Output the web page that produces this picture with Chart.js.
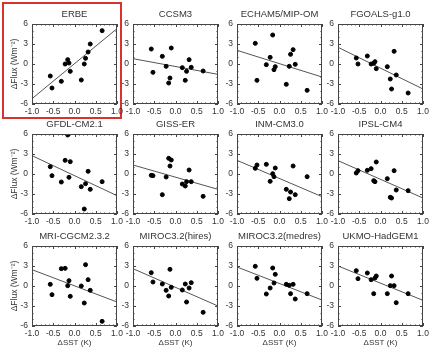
<!DOCTYPE html>
<html>
<head>
<meta charset="utf-8">
<script src="https://cdn.jsdelivr.net/npm/chart.js@4"></script>
<style>
  html, body { margin: 0; padding: 0; background: #fff; }
  #wrap { position: relative; width: 432px; height: 352px; overflow: hidden; }
  #wrap canvas { position: absolute; }
  .erbe-box { position: absolute; left: 2px; top: 2px; width: 116px; height: 113px; border: 2px solid #d9322e; }
</style>
</head>
<body>
<div id="wrap"><div class="erbe-box"></div></div>
<script>
// ΔSST anomalies (same years in every panel)
const sstAnom = [-0.57, -0.53, -0.31, -0.22, -0.16, -0.13, -0.10, 0.16, 0.23, 0.26, 0.32, 0.37, 0.65];

const panelNames = ['ERBE', 'CCSM3', 'ECHAM5/MIP-OM', 'FGOALS-g1.0',
  'GFDL-CM2.1', 'GISS-ER', 'INM-CM3.0', 'IPSL-CM4',
  'MRI-CGCM2.3.2', 'MIROC3.2(hires)', 'MIROC3.2(medres)', 'UKMO-HadGEM1'];

const fluxERBE     = [-1.8, -3.6, -2.6, 0.0, 0.65, 0.15, -1.1, -2.4, 0.0, 0.85, 1.8, 3.0, 5.0];
const fluxCCSM3    = [2.25, -1.25, 1.15, -0.35, -2.85, -2.1, 2.4, -0.55, -2.45, -1.1, 0.65, -0.5, -1.05];
const fluxECHAM5   = [3.1, -2.45, -0.1, 1.0, 4.35, -0.85, -0.4, -3.05, -0.35, 1.45, 2.15, -0.05, -3.95];
const fluxFGOALS   = [0.9, 0.0, 1.2, 0.0, 0.1, 0.35, -0.7, -0.4, -2.25, -3.75, 1.9, -1.65, -4.35];
const fluxGFDL     = [1.1, -0.25, -1.2, 2.05, 5.85, -0.5, 1.85, -1.9, -5.25, -1.45, 0.4, -2.3, -1.15];
const fluxGISS     = [-0.2, -0.25, -3.1, -0.45, 2.35, 1.2, 2.1, -1.5, -1.8, -1.15, 0.6, -1.15, -3.35];
const fluxINM      = [0.85, 1.35, 1.45, -1.1, 0.05, -0.4, 0.9, -2.3, -3.7, -2.7, 1.2, -3.1, -0.4];
const fluxIPSL     = [0.15, 0.5, 0.55, 0.8, -1.0, -1.15, 1.8, -0.7, -3.5, -3.6, 0.5, -2.4, -2.5];
const fluxMRI      = [0.25, -1.3, 2.6, 2.65, 0.05, 0.8, -1.55, 0.0, -2.55, 3.2, 0.95, -0.65, -5.3];
const fluxMIROChi  = [2.0, 0.6, 0.3, -0.65, -1.5, 2.5, -0.2, -0.6, 0.3, -2.4, -0.3, 0.5, -3.95];
const fluxMIROCmed = [2.95, 1.15, -1.2, -0.3, 2.7, 0.45, 1.75, 0.25, 0.1, -1.15, 0.25, -1.95, -1.15];
const fluxUKMO     = [2.3, 1.1, 1.95, 0.95, -1.15, 1.2, 1.5, -1.15, 0.05, 1.5, 0.05, -2.5, -1.15];

// regression line read at ΔSST = -1 and ΔSST = +1
const fitAtMinus1 = [-5.2, 0.8, 2.05, 2.5, 2.75, 1.35, 2.05, 2.0, 2.45, 2.6, 2.85, 3.0];
const fitAtPlus1  = [5.3, -1.55, -1.95, -3.75, -3.25, -2.3, -3.4, -3.6, -2.4, -3.0, -2.1, -2.15];

const xTicks = [-1, -0.5, 0, 0.5, 1];
const yTicks = [-6, -3, 0, 3, 6];
const xMinorTicks = [-1, -0.9, -0.8, -0.7, -0.6, -0.5, -0.4, -0.3, -0.2, -0.1, 0, 0.1, 0.2, 0.3, 0.4, 0.5, 0.6, 0.7, 0.8, 0.9, 1];
const yMinorTicks = [-6, -5, -4, -3, -2, -1, 0, 1, 2, 3, 4, 5, 6];

const allFlux = [fluxERBE, fluxCCSM3, fluxECHAM5, fluxFGOALS, fluxGFDL, fluxGISS,
  fluxINM, fluxIPSL, fluxMRI, fluxMIROChi, fluxMIROCmed, fluxUKMO];

// panel geometry
const colLeft = [32, 133, 237, 338];
const rowTop = [24, 134, 246];
const plotW = 85, plotH = 80;
const axisW = 32, titleH = 24, padR = 14;

const tickFont = { family: '"Liberation Sans Narrow", "Liberation Sans", Arial, sans-serif', size: 8.5 };
const textColor = '#333';

// box round the plot area with inward ticks on all four sides
const boxTicks = {
  id: 'boxTicks',
  afterDatasetsDraw(chart) {
    const { ctx, chartArea: a, scales: { x, y } } = chart;
    ctx.save();
    ctx.strokeStyle = '#444';
    ctx.lineWidth = 1;
    ctx.strokeRect(Math.round(a.left) + 0.5, Math.round(a.top) + 0.5,
      Math.round(a.width) - 1, Math.round(a.height) - 1);
    ctx.beginPath();
    xMinorTicks.forEach(v => {
      const px = Math.round(x.getPixelForValue(v)) + 0.5;
      const len = xTicks.includes(v) ? 3 : 1.5;
      ctx.moveTo(px, a.bottom); ctx.lineTo(px, a.bottom - len);
      ctx.moveTo(px, a.top); ctx.lineTo(px, a.top + len);
    });
    yMinorTicks.forEach(v => {
      const py = Math.round(y.getPixelForValue(v)) + 0.5;
      const len = yTicks.includes(v) ? 3 : 1.5;
      ctx.moveTo(a.left, py); ctx.lineTo(a.left + len, py);
      ctx.moveTo(a.right, py); ctx.lineTo(a.right - len, py);
    });
    ctx.stroke();
    ctx.restore();
  }
};

const wrap = document.getElementById('wrap');

panelNames.forEach((name, i) => {
  const r = Math.floor(i / 4), c = i % 4;
  const xAxisH = r === 2 ? 22 : 14;
  const cv = document.createElement('canvas');
  const w = axisW + plotW + padR, h = titleH + plotH + xAxisH;
  cv.width = w; cv.height = h;
  cv.style.left = (colLeft[c] - axisW) + 'px';
  cv.style.top = (rowTop[r] - titleH) + 'px';
  cv.style.width = w + 'px'; cv.style.height = h + 'px';
  wrap.appendChild(cv);

  const pts = sstAnom.map((x, k) => ({ x, y: allFlux[i][k] }));

  new Chart(cv, {
    type: 'scatter',
    data: {
      datasets: [
        { data: pts, backgroundColor: '#000', borderColor: '#000', pointRadius: 2, pointHoverRadius: 2 },
        { type: 'line', data: [{ x: -1, y: fitAtMinus1[i] }, { x: 1, y: fitAtPlus1[i] }],
          borderColor: '#555', borderWidth: 1, pointRadius: 0, fill: false }
      ]
    },
    options: {
      responsive: false,
      animation: false,
      devicePixelRatio: 1,
      layout: { padding: { left: 0, right: padR, top: 0, bottom: 0 } },
      plugins: {
        legend: { display: false },
        tooltip: { enabled: false },
        title: {
          display: true, text: name, color: textColor, fullSize: false,
          font: { family: '"Liberation Sans", Arial, sans-serif', size: 9.5, weight: 'normal', lineHeight: '13px' },
          padding: { top: 8, bottom: 3 }
        }
      },
      scales: {
        x: {
          type: 'linear', min: -1, max: 1,
          grid: { display: false, drawTicks: false }, border: { display: false },
          afterBuildTicks: s => { s.ticks = xTicks.map(v => ({ value: v })); },
          ticks: { font: tickFont, color: textColor, padding: 3, autoSkip: false, maxRotation: 0,
            callback: v => v.toFixed(1) },
          title: { display: r === 2, text: 'ΔSST (K)', color: textColor,
            font: { family: '"Liberation Sans", Arial, sans-serif', size: 8 }, padding: 0 },
          afterFit: s => { s.height = xAxisH; }
        },
        y: {
          type: 'linear', min: -6, max: 6,
          grid: { display: false, drawTicks: false }, border: { display: false },
          afterBuildTicks: s => { s.ticks = yTicks.map(v => ({ value: v })); },
          ticks: { font: tickFont, color: textColor, padding: 4 },
          title: { display: c === 0, text: 'ΔFlux (Wm⁻²)', color: textColor,
            font: { family: '"Liberation Sans", Arial, sans-serif', size: 8.5 }, padding: { top: 10, bottom: 0 } },
          afterFit: s => { s.width = axisW; }
        }
      }
    },
    plugins: [boxTicks]
  });
});
</script>
</body>
</html>
